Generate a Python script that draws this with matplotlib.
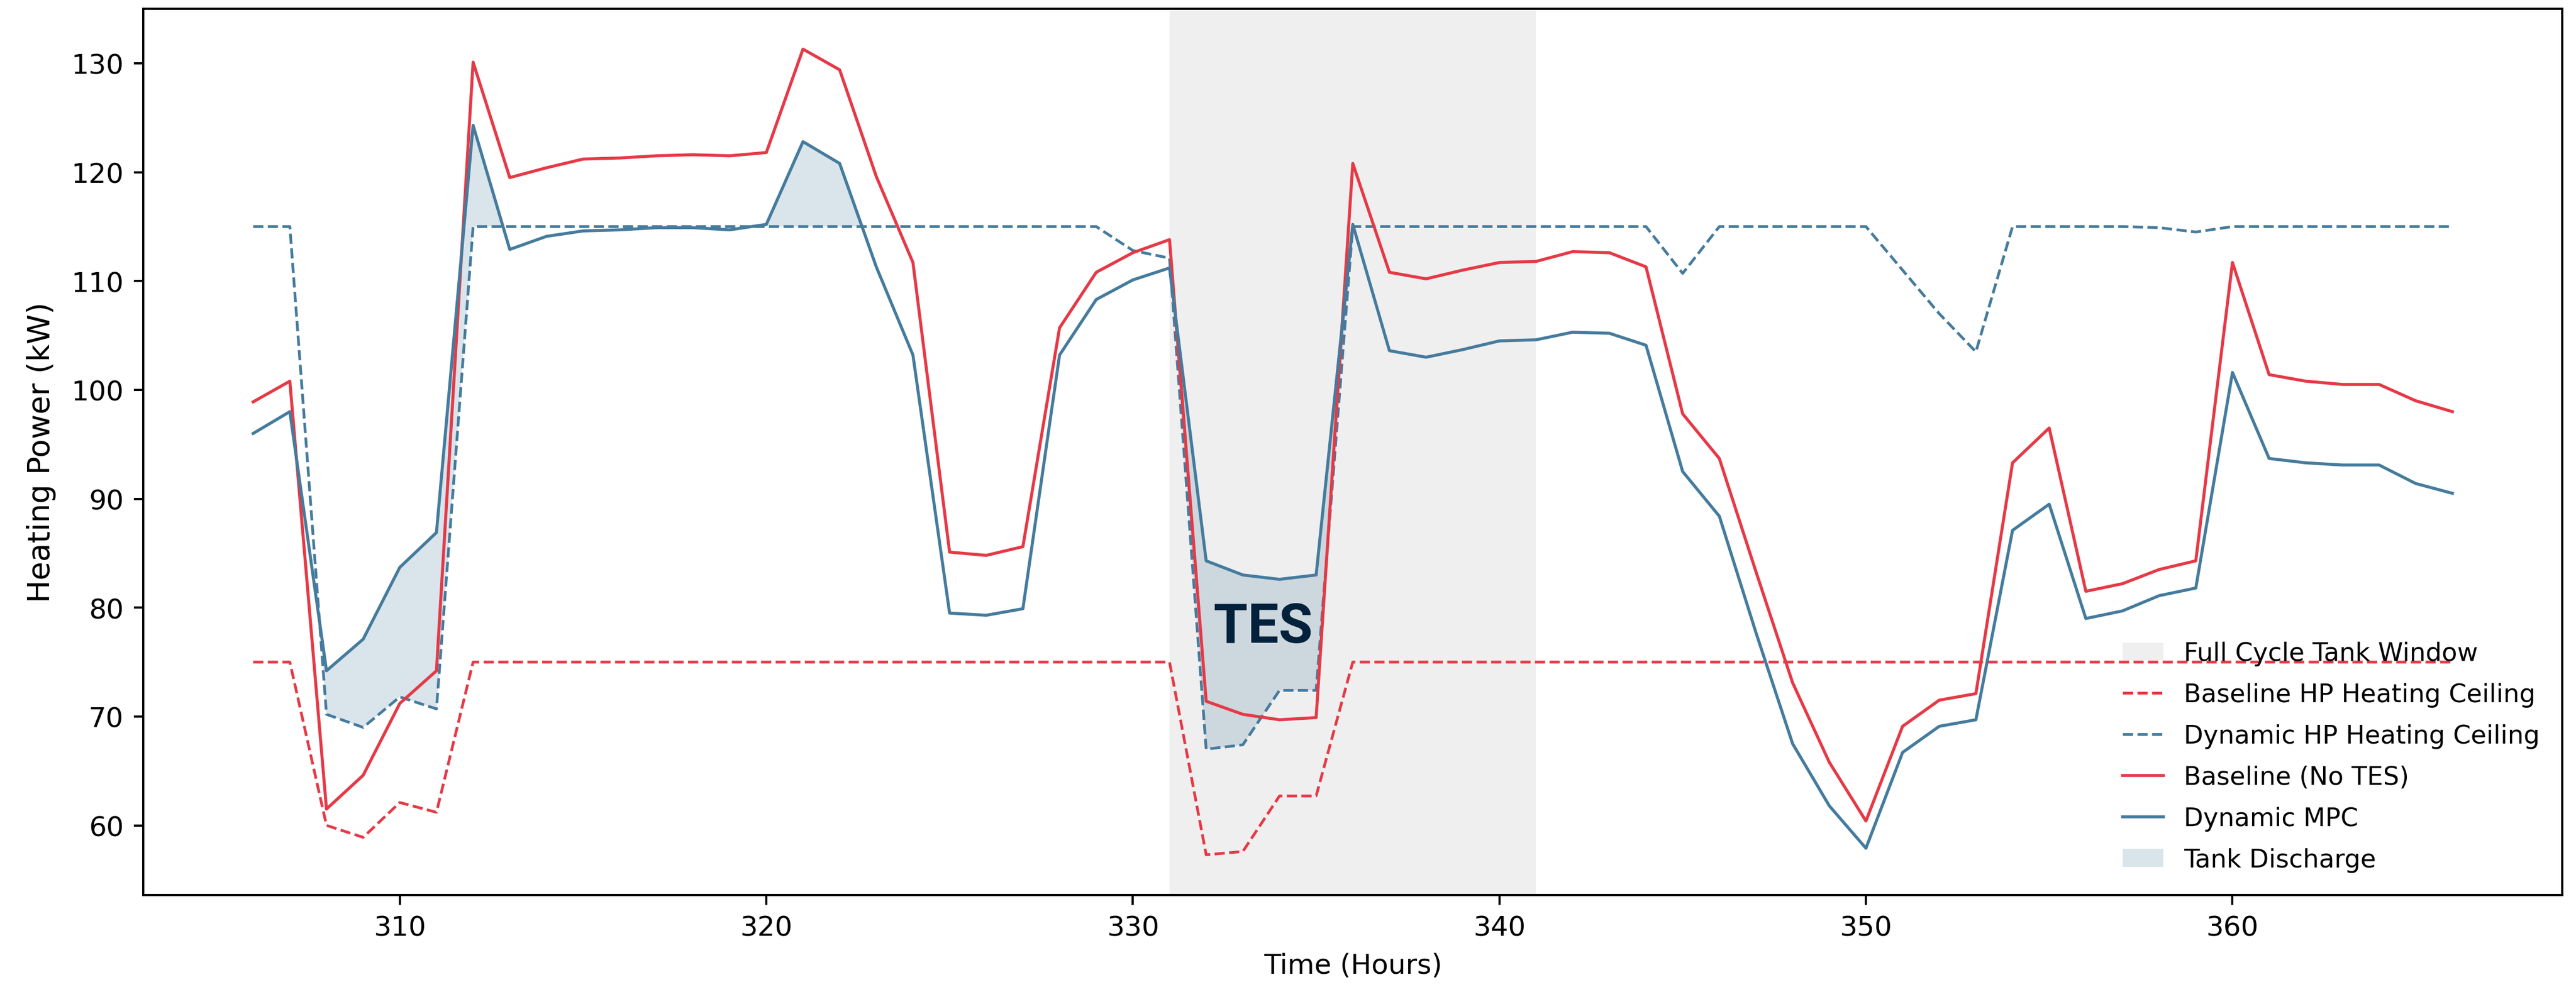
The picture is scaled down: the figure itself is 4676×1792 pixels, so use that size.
import numpy as np
import matplotlib
matplotlib.use("Agg")
import matplotlib.pyplot as plt

# Hourly time axis
hours = list(range(306, 367))

# Heating power (kW) delivered by each strategy
baseline_no_tes = [
    98.9, 100.8, 61.5, 64.6, 71.2, 74.2, 130.1, 119.5, 120.4, 121.2,
    121.3, 121.5, 121.6, 121.5, 121.8, 131.3, 129.4, 119.6, 111.7, 85.1,
    84.8, 85.6, 105.7, 110.8, 112.6, 113.8, 71.4, 70.2, 69.7, 69.9,
    120.8, 110.8, 110.2, 111.0, 111.7, 111.8, 112.7, 112.6, 111.3, 97.8,
    93.7, 83.3, 73.1, 65.8, 60.4, 69.1, 71.5, 72.1, 93.3, 96.5,
    81.5, 82.2, 83.5, 84.3, 111.7, 101.4, 100.8, 100.5, 100.5, 99.0,
    98.0,
]
dynamic_mpc = [
    96.0, 98.0, 74.2, 77.1, 83.7, 86.9, 124.3, 112.9, 114.1, 114.6,
    114.7, 114.9, 114.9, 114.7, 115.2, 122.8, 120.8, 111.3, 103.2, 79.5,
    79.3, 79.9, 103.2, 108.3, 110.1, 111.2, 84.3, 83.0, 82.6, 83.0,
    115.2, 103.6, 103.0, 103.7, 104.5, 104.6, 105.3, 105.2, 104.1, 92.5,
    88.4, 77.7, 67.5, 61.8, 57.9, 66.7, 69.1, 69.7, 87.1, 89.5,
    79.0, 79.7, 81.1, 81.8, 101.6, 93.7, 93.3, 93.1, 93.1, 91.4,
    90.5,
]

# Heat pump heating ceilings (kW)
baseline_ceiling = [
    75, 75, 60.0, 58.9, 62.1, 61.2, 75, 75, 75, 75,
    75, 75, 75, 75, 75, 75, 75, 75, 75, 75,
    75, 75, 75, 75, 75, 75, 57.3, 57.6, 62.7, 62.7,
    75, 75, 75, 75, 75, 75, 75, 75, 75, 75,
    75, 75, 75, 75, 75, 75, 75, 75, 75, 75,
    75, 75, 75, 75, 75, 75, 75, 75, 75, 75,
    75,
]
dynamic_ceiling = [
    115, 115, 70.2, 69.0, 71.8, 70.7, 115, 115, 115, 115,
    115, 115, 115, 115, 115, 115, 115, 115, 115, 115,
    115, 115, 115, 115, 112.8, 112.1, 67.0, 67.4, 72.4, 72.4,
    115, 115, 115, 115, 115, 115, 115, 115, 115, 110.7,
    115, 115, 115, 115, 115, 111.0, 107.0, 103.5, 115, 115,
    115, 115, 114.9, 114.5, 115, 115, 115, 115, 115, 115,
    115,
]

# Full charge/discharge cycle window of the tank (hours)
tank_window = (331, 341)

RED = "#e63946"
BLUE = "#457b9d"

plt.rcParams["font.size"] = 10

fig = plt.figure(figsize=(4676 / 360, 1793 / 360), dpi=360)
ax = fig.add_axes([0.0556, 0.0931, 0.9947 - 0.0556, 0.9905 - 0.0931])

x = np.array(hours)
base = np.array(baseline_no_tes)
mpc = np.array(dynamic_mpc)
bceil = np.array(baseline_ceiling)
dceil = np.array(dynamic_ceiling)

ax.axvspan(tank_window[0], tank_window[1], color="gray", alpha=0.12, lw=0,
           label="Full Cycle Tank Window")
ax.plot(x, bceil, color=RED, ls="--", lw=1.0, label="Baseline HP Heating Ceiling")
ax.plot(x, dceil, color=BLUE, ls="--", lw=1.0, label="Dynamic HP Heating Ceiling")
ax.plot(x, base, color=RED, lw=1.1, label="Baseline (No TES)")
ax.plot(x, mpc, color=BLUE, lw=1.1, label="Dynamic MPC")
ax.fill_between(x, mpc, dceil, where=mpc > dceil, interpolate=True,
                color=BLUE, alpha=0.2, lw=0, label="Tank Discharge")

ax.text(333.56, 76.8, "TES", ha="center", va="baseline",
        fontsize=20, fontweight="bold", family=["Roboto", "DejaVu Sans"],
        color="#03213b")

ax.set_xlabel("Time (Hours)")
ax.set_ylabel("Heating Power (kW)", fontsize=11, labelpad=5.5)
ax.legend(loc="lower right", frameon=False, fontsize=9.2,
          handlelength=1.6, labelspacing=0.65)

fig.savefig("out.png", dpi=360)
